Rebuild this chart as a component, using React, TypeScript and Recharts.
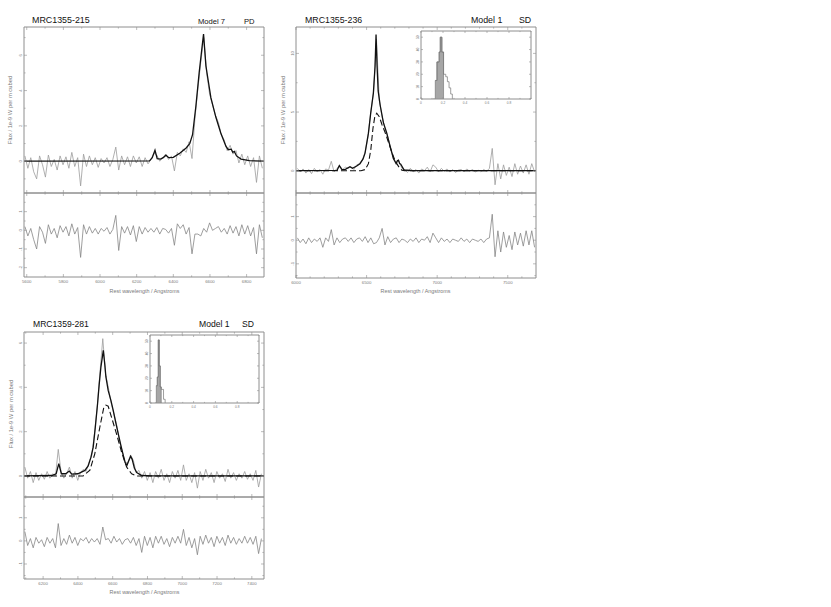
import React from "react";
import { ComposedChart, Line, Area, XAxis, YAxis } from "recharts";

// ---- MRC1355-215 (Model 7, PD) ----
const waveA = [5590, 5606, 5622, 5638, 5654, 5670, 5686, 5702, 5718, 5734, 5750, 5766, 5782, 5798, 5814, 5830, 5846, 5862, 5878, 5894, 5910, 5926, 5942, 5958, 5974, 5990, 6006, 6022, 6038, 6054, 6070, 6086, 6102, 6118, 6134, 6150, 6166, 6182, 6198, 6214, 6230, 6246, 6262, 6278, 6294, 6310, 6326, 6342, 6358, 6374, 6390, 6406, 6422, 6438, 6454, 6470, 6486, 6502, 6518, 6534, 6550, 6566, 6582, 6598, 6614, 6630, 6646, 6662, 6678, 6694, 6710, 6726, 6742, 6758, 6774, 6790, 6806, 6822, 6838, 6854, 6870, 6886];
const fluxA = [0.3, -0.4, 0.2, -0.6, -1.0, 0.3, -0.2, -0.9, 0.35, -0.3, 0.1, -0.5, 0.3, -0.2, 0.25, -0.4, 0.5, -0.3, 0.2, -1.4, 0.4, -0.3, 0.3, -0.2, 0.2, -0.35, 0.15, -0.1, 0.2, -0.3, 0.1, 0.8, -0.5, 0.3, -0.2, 0.25, -0.3, 0.3, -0.1, 0.25, -0.3, 0.2, -0.15, 0.1, 0.45, 0.35, 0.0, 0.2, 0.4, 0.1, 0.3, -0.55, 0.5, 0.3, 0.7, 0.5, 1.1, 0.15, 2.4, 4.1, 5.6, 7.0, 5.0, 3.8, 3.2, 2.6, 2.2, 1.5, 1.2, 0.6, 0.9, 0.4, 0.6, -0.1, 0.4, -0.2, 0.3, -0.3, 0.2, -1.2, 0.3, -0.4];
const residA = [0.2, -0.3, 0.1, -0.5, -1.0, 0.2, -0.1, -0.7, 0.3, -0.2, 0.1, -0.4, 0.25, -0.1, 0.2, -0.3, 0.35, -0.2, 0.15, -1.45, 0.3, -0.2, 0.2, -0.15, 0.1, -0.2, 0.1, -0.05, 0.15, -0.2, 0.05, 0.8, -1.08, 0.2, -0.15, 0.2, -0.25, 0.25, -0.6, 0.2, -0.2, 0.15, -0.1, 0.1, -0.1, 0.15, -0.2, 0.1, 0.05, -0.15, 0.1, -0.8, 0.35, 0.1, 0.3, -0.2, 0.15, -1.26, -0.2, -0.2, -0.3, 0.1, -0.1, 0.4, 0.0, 0.1, 0.2, -0.1, 0.1, -0.2, 0.25, -0.15, 0.2, -0.3, 0.3, -0.2, 0.25, -0.3, 0.15, -1.26, 0.3, -0.4];
const modelWaveA = [5585, 6270, 6285, 6300, 6312, 6330, 6345, 6360, 6375, 6400, 6435, 6470, 6490, 6505, 6523, 6541, 6555, 6565, 6578, 6590, 6605, 6632, 6659, 6687, 6700, 6716, 6725, 6733, 6745, 6770, 6815, 6895];
const modelFluxA = [0, 0.02, 0.2, 0.62, 0.15, 0.12, 0.2, 0.34, 0.2, 0.22, 0.45, 0.75, 1.0, 1.5, 3.1, 5.0, 6.3, 7.2, 5.4, 4.6, 3.6, 2.5, 1.6, 0.85, 0.65, 0.68, 0.5, 0.55, 0.3, 0.12, 0.03, 0];

// ---- MRC1355-236 (Model 1, SD) ----
const waveB = [6010, 6030, 6050, 6070, 6090, 6110, 6130, 6150, 6170, 6190, 6210, 6230, 6250, 6270, 6290, 6310, 6330, 6350, 6370, 6390, 6410, 6430, 6450, 6470, 6490, 6510, 6530, 6550, 6570, 6590, 6610, 6630, 6650, 6670, 6690, 6710, 6730, 6750, 6770, 6790, 6810, 6830, 6850, 6870, 6890, 6910, 6930, 6950, 6970, 6990, 7010, 7030, 7050, 7070, 7090, 7110, 7130, 7150, 7170, 7190, 7210, 7230, 7250, 7270, 7290, 7310, 7330, 7350, 7370, 7390, 7410, 7430, 7450, 7470, 7490, 7510, 7530, 7550, 7570, 7590, 7610, 7630, 7650, 7670, 7690];
const fluxB = [0.2, -0.1, 0.15, -0.2, 0.1, -0.25, 0.2, -0.1, 0.1, -0.3, 0.15, 0.05, 0.8, -0.1, 0.2, 0.4, 0.1, 0.3, 0.2, 0.35, 0.1, 0.5, 0.6, 0.9, 1.6, 2.9, 5.0, 6.8, 11.2, 6.0, 4.6, 3.6, 2.9, 2.0, 1.0, 0.7, 0.8, 0.2, 0.1, -0.15, 0.2, -0.1, 0.1, -0.2, 0.15, 0.0, 0.3, -0.1, 0.5, 0.3, -0.1, 0.2, -0.05, 0.15, -0.1, 0.1, -0.15, 0.05, 0.1, -0.1, 0.15, -0.05, 0.1, -0.1, 0.05, -0.1, 0.1, -0.05, 0.2, 1.9, -1.2, 0.6, -0.7, 0.5, -0.4, 0.3, -0.5, 0.6, -0.3, 0.4, -0.2, 0.5, -0.3, 0.6, -0.1];
const residB = [0.1, -0.1, 0.05, -0.15, 0.1, -0.1, 0.05, -0.05, 0.1, -0.3, 0.1, -0.05, 0.45, -0.2, 0.1, -0.1, 0.05, 0.1, -0.05, 0.1, -0.1, 0.05, 0.1, -0.05, 0.15, -0.1, 0.1, -0.15, -0.1, 0.1, 0.5, -0.2, 0.15, -0.1, 0.05, 0.1, -0.1, 0.05, 0.0, -0.1, 0.05, -0.05, 0.1, -0.1, 0.05, 0.0, 0.15, -0.1, 0.3, 0.1, -0.1, 0.1, -0.05, 0.05, -0.1, 0.05, 0.0, -0.05, 0.1, -0.05, 0.05, -0.1, 0.05, 0.0, -0.05, 0.05, -0.1, 0.05, 0.1, 1.1, -0.7, 0.4, -0.5, 0.35, -0.3, 0.2, -0.4, 0.35, -0.2, 0.3, -0.25, 0.4, -0.2, 0.4, -0.3];
const modelWaveB = [6000, 6290, 6307, 6325, 6350, 6382, 6400, 6430, 6453, 6475, 6489, 6513, 6529, 6548, 6560, 6567, 6574, 6582, 6596, 6619, 6643, 6666, 6690, 6709, 6718, 6726, 6734, 6742, 6766, 6830, 7700];
const modelFluxB = [0, 0.02, 0.43, 0.1, 0.12, 0.34, 0.2, 0.4, 0.6, 1.0, 1.5, 3.2, 4.9, 6.6, 8.9, 11.6, 9.0, 6.8, 5.6, 4.1, 3.2, 2.1, 1.05, 0.62, 0.85, 0.9, 0.6, 0.55, 0.06, 0, 0];
const broadWaveB = [6000, 6460, 6490, 6513, 6530, 6545, 6558, 6572, 6590, 6610, 6630, 6650, 6678, 6700, 6714, 6730, 6750, 6770, 7700];
const broadFluxB = [0, 0, 0.1, 0.6, 1.8, 3.6, 4.6, 4.9, 4.6, 3.9, 3.3, 2.6, 1.6, 0.9, 0.6, 0.3, 0.05, 0, 0];
const histAllEdgesB = [0.11, 0.13, 0.145, 0.165, 0.175, 0.19, 0.205, 0.225, 0.24, 0.255, 0.27, 0.285];
const histAllCountsB = [0, 15, 30, 38, 50, 38, 20, 18, 14, 9, 4, 0];
const histSelEdgesB = [0.13, 0.145, 0.165, 0.175, 0.19, 0.205];
const histSelCountsB = [15, 30, 38, 50, 38, 0];

// ---- MRC1359-281 (Model 1, SD) ----
const waveC = [6095, 6111, 6127, 6143, 6159, 6175, 6191, 6207, 6223, 6239, 6255, 6271, 6287, 6303, 6319, 6335, 6351, 6367, 6383, 6399, 6415, 6431, 6447, 6463, 6479, 6495, 6511, 6527, 6543, 6559, 6575, 6591, 6607, 6623, 6639, 6655, 6671, 6687, 6703, 6719, 6735, 6751, 6767, 6783, 6799, 6815, 6831, 6847, 6863, 6879, 6895, 6911, 6927, 6943, 6959, 6975, 6991, 7007, 7023, 7039, 7055, 7071, 7087, 7103, 7119, 7135, 7151, 7167, 7183, 7199, 7215, 7231, 7247, 7263, 7279, 7295, 7311, 7327, 7343, 7359, 7375, 7391, 7407, 7423, 7439, 7455];
const fluxC = [0.4, -0.1, 0.2, -0.3, 0.15, -0.2, 0.1, -0.15, 0.2, -0.1, 0.1, 0.0, 1.2, 0.2, -0.1, 0.1, 0.4, -0.1, 0.2, -0.2, 0.15, 0.3, 0.2, 0.6, 0.9, 1.9, 3.1, 4.7, 6.2, 4.6, 4.0, 3.3, 2.8, 2.3, 1.6, 1.1, 0.6, 0.6, 0.95, 0.7, 0.15, 0.25, -0.1, 0.2, -0.2, 0.15, -0.3, 0.2, -0.1, 0.3, -0.2, 0.1, -0.3, 0.2, -0.1, 0.25, -0.2, 0.5, -0.2, 0.1, -0.3, 0.15, -0.55, 0.2, -0.2, 0.3, -0.1, 0.15, -0.3, 0.2, -0.1, 0.1, -0.25, 0.3, -0.1, 0.15, -0.2, 0.1, -0.1, 0.2, -0.15, 0.1, -0.2, 0.25, -0.5, 0.1];
const residC = [0.4, -0.2, 0.1, -0.3, 0.15, -0.1, 0.05, -0.25, 0.15, -0.1, 0.1, -0.3, 0.75, -0.2, 0.1, -0.15, 0.25, -0.1, 0.15, -0.2, 0.1, 0.0, 0.15, -0.1, 0.1, -0.05, 0.1, -0.15, 0.6, 0.05, 0.1, -0.1, 0.2, -0.05, 0.1, -0.15, 0.05, 0.1, -0.1, 0.15, -0.2, 0.1, -0.5, 0.2, -0.2, 0.15, -0.3, 0.2, -0.1, 0.2, -0.15, 0.1, -0.25, 0.15, -0.1, 0.2, -0.1, 0.5, -0.2, 0.15, -0.3, 0.1, -0.6, 0.2, -0.15, 0.25, -0.1, 0.15, -0.25, 0.2, -0.1, 0.15, -0.2, 0.25, -0.1, 0.15, -0.15, 0.1, -0.1, 0.2, -0.1, 0.15, -0.15, 0.2, -0.55, 0.1];
const modelWaveC = [6090, 6250, 6275, 6290, 6305, 6330, 6350, 6365, 6400, 6440, 6459, 6475, 6488, 6500, 6513, 6522, 6532, 6546, 6555, 6561, 6574, 6590, 6603, 6618, 6632, 6648, 6661, 6672, 6682, 6693, 6703, 6712, 6725, 6738, 6767, 6830, 7470];
const modelFluxC = [0, 0.02, 0.1, 0.56, 0.1, 0.1, 0.22, 0.08, 0.1, 0.25, 0.45, 0.85, 1.3, 2.2, 3.26, 4.1, 4.9, 5.67, 5.0, 4.47, 3.86, 3.4, 2.96, 2.4, 1.9, 1.35, 0.93, 0.6, 0.48, 0.7, 0.89, 0.75, 0.35, 0.15, 0.02, 0, 0];
const broadWaveC = [6090, 6430, 6469, 6497, 6526, 6549, 6561, 6574, 6593, 6622, 6651, 6680, 6709, 6738, 7470];
const broadFluxC = [0, 0, 0.26, 1.0, 2.2, 3.1, 3.2, 3.15, 2.66, 1.9, 1.08, 0.4, 0.1, 0, 0];
const histAllEdgesC = [0.045, 0.058, 0.067, 0.076, 0.085, 0.094, 0.103, 0.124, 0.139];
const histAllCountsC = [0, 14, 21, 51, 30, 13, 11, 3, 0];
const histSelEdgesC = [0.058, 0.067, 0.076, 0.085, 0.094, 0.103];
const histSelCountsC = [14, 21, 51, 30, 13, 0];

// ---- tick values ----
const ticksXA = [5600, 5700, 5800, 5900, 6000, 6100, 6200, 6300, 6400, 6500, 6600, 6700, 6800];
const labelsXA = [5600, 5800, 6000, 6200, 6400, 6600, 6800];
const ticksXB = [6000, 6100, 6200, 6300, 6400, 6500, 6600, 6700, 6800, 6900, 7000, 7100, 7200, 7300, 7400, 7500, 7600];
const labelsXB = [6000, 6500, 7000, 7500];
const ticksXC = [6100, 6200, 6300, 6400, 6500, 6600, 6700, 6800, 6900, 7000, 7100, 7200, 7300, 7400];
const labelsXC = [6200, 6400, 6600, 6800, 7000, 7200, 7400];
const ticksFluxA = [-1, 0, 1, 2, 3, 4, 5, 6, 7];
const labelsFluxA = [0, 2, 4, 6];
const ticksFluxB = [0, 2.5, 5, 7.5, 10];
const labelsFluxB = [0, 5, 10];
const ticksFluxC = [0, 1, 2, 3, 4, 5, 6];
const labelsFluxC = [0, 2, 4, 6];
const ticksResA = [-2, -1.5, -1, -0.5, 0, 0.5, 1, 1.5];
const labelsResA = [-2, -1, 0, 1];
const ticksRes = [-1.5, -1, -0.5, 0, 0.5, 1, 1.5];
const labelsRes = [-1, 0, 1];
const ticksInsetX = [0, 0.1, 0.2, 0.3, 0.4, 0.5, 0.6, 0.7, 0.8, 0.9, 1];
const labelsInsetX = [0, 0.2, 0.4, 0.6, 0.8];
const ticksInsetY = [0, 10, 20, 30, 40, 50];

const FRAME = "#8e8e8e";
const INK = "#7a7a7a";
const SANS = "'Liberation Sans', Arial, sans-serif";
const M = 1;

type Side = "bottom" | "top" | "left" | "right";
type Axis = { domain: [number, number]; ticks: number[]; major: number[] };
type Box = { x0: number; x1: number; y0: number; y1: number };
type Pads = { l: number; r: number; t: number; b: number };

const pairs = (xs: number[], ys: number[]) => xs.map((w, i) => ({ w, v: ys[i] }));

function makeTick(side: Side, axis: Axis, withText: boolean, fs: number, len: number) {
  return (p: any) => {
    const x = Number(p.x);
    const y = Number(p.y);
    const v = Number(p.payload?.value);
    const major = axis.major.some((m) => Math.abs(m - v) < 1e-6);
    const l = major ? len : len * 0.55;
    const label = withText && major ? String(v) : null;
    const txt = { fontSize: fs, fill: INK, fontFamily: SANS };
    if (side === "bottom") {
      const a = y - M;
      return (
        <g>
          <line x1={x} x2={x} y1={a} y2={a - l} stroke={FRAME} strokeWidth={0.6} />
          {label && (
            <text x={x} y={a + fs + 1.5} textAnchor="middle" {...txt}>
              {label}
            </text>
          )}
        </g>
      );
    }
    if (side === "top") {
      const a = y + M;
      return <line x1={x} x2={x} y1={a} y2={a + l} stroke={FRAME} strokeWidth={0.6} />;
    }
    if (side === "left") {
      const a = x + M;
      return (
        <g>
          <line x1={a} x2={a + l} y1={y} y2={y} stroke={FRAME} strokeWidth={0.6} />
          {label && (
            <text x={a - 2} y={y} transform={`rotate(-90 ${a - 2} ${y})`} textAnchor="middle" {...txt}>
              {label}
            </text>
          )}
        </g>
      );
    }
    const a = x - M;
    return <line x1={a} x2={a - l} y1={y} y2={y} stroke={FRAME} strokeWidth={0.6} />;
  };
}

function Plot(props: {
  box: Box;
  pads: Pads;
  data?: any[];
  x: Axis;
  y: Axis;
  xText: boolean;
  yText: boolean;
  fs: number;
  len: number;
  children: React.ReactNode;
}) {
  const { box, pads, data, x, y, xText, yText, fs, len, children } = props;
  const width = box.x1 - box.x0 + pads.l + pads.r;
  const height = box.y1 - box.y0 + pads.t + pads.b;
  const axisLine = { stroke: FRAME, strokeWidth: 1 };
  return (
    <div style={{ position: "absolute", left: box.x0 - pads.l, top: box.y0 - pads.t }}>
      <ComposedChart width={width} height={height} data={data} margin={{ top: 0, right: 0, bottom: 0, left: 0 }}>
        <XAxis xAxisId="b" orientation="bottom" type="number" dataKey="w" domain={x.domain} ticks={x.ticks}
          interval={0} allowDataOverflow height={pads.b} tickSize={0} tickMargin={M} axisLine={axisLine}
          tickLine={false} tick={makeTick("bottom", x, xText, fs, len)} />
        <XAxis xAxisId="t" orientation="top" type="number" dataKey="w" domain={x.domain} ticks={x.ticks}
          interval={0} allowDataOverflow height={pads.t} tickSize={0} tickMargin={M} axisLine={axisLine}
          tickLine={false} tick={makeTick("top", x, false, fs, len)} />
        <YAxis yAxisId="l" orientation="left" type="number" domain={y.domain} ticks={y.ticks}
          interval={0} allowDataOverflow width={pads.l} tickSize={0} tickMargin={M} axisLine={axisLine}
          tickLine={false} tick={makeTick("left", y, yText, fs, len)} />
        <YAxis yAxisId="r" orientation="right" type="number" domain={y.domain} ticks={y.ticks}
          interval={0} allowDataOverflow width={pads.r} tickSize={0} tickMargin={M} axisLine={axisLine}
          tickLine={false} tick={makeTick("right", y, false, fs, len)} />
        {children}
      </ComposedChart>
    </div>
  );
}

const lineBase = { xAxisId: "b", yAxisId: "l", dot: false, isAnimationActive: false, type: "linear" as const };

function SpectrumPanel(props: {
  left: number;
  right: number;
  top: number;
  split: number;
  bottom: number;
  wave: number[];
  flux: number[];
  resid: number[];
  model: { w: number; v: number }[];
  broad?: { w: number; v: number }[];
  xAxis: Axis;
  fluxAxis: Axis;
  resAxis: Axis;
}) {
  const { left, right, top, split, bottom, wave, flux, resid, model, broad, xAxis, fluxAxis, resAxis } = props;
  const rows = wave.map((w, i) => ({ w, flux: flux[i], resid: resid[i] }));
  return (
    <>
      <Plot box={{ x0: left, x1: right, y0: top, y1: split }} pads={{ l: 18, r: 4, t: 4, b: 4 }} data={rows}
        x={xAxis} y={fluxAxis} xText={false} yText fs={4.3} len={3}>
        <Line {...lineBase} dataKey="flux" stroke="#9c9c9c" strokeWidth={0.8} />
        {broad && (
          <Line {...lineBase} data={broad} dataKey="v" stroke="#111" strokeWidth={1.1} strokeDasharray="6 3" />
        )}
        <Line {...lineBase} data={model} dataKey="v" stroke="#111" strokeWidth={1.3} />
      </Plot>
      <Plot box={{ x0: left, x1: right, y0: split, y1: bottom }} pads={{ l: 18, r: 4, t: 4, b: 12 }} data={rows}
        x={xAxis} y={resAxis} xText yText fs={4.3} len={3}>
        <Line {...lineBase} dataKey="resid" stroke="#858585" strokeWidth={0.8} />
      </Plot>
    </>
  );
}

function Inset(props: { box: Box; all: { w: number; v: number }[]; sel: { w: number; v: number }[] }) {
  const { box, all, sel } = props;
  return (
    <Plot box={box} pads={{ l: 6, r: 2, t: 2, b: 6 }} x={{ domain: [0, 1], ticks: ticksInsetX, major: labelsInsetX }}
      y={{ domain: [0, 55], ticks: ticksInsetY, major: ticksInsetY }} xText yText fs={3.2} len={2}>
      <Area xAxisId="b" yAxisId="l" data={sel} dataKey="v" type="stepAfter" fill="#a6a6a6" fillOpacity={1}
        stroke="#6d6d6d" strokeWidth={0.6} isAnimationActive={false} dot={false} />
      <Line xAxisId="b" yAxisId="l" data={all} dataKey="v" type="stepAfter" stroke="#777" strokeWidth={0.7}
        isAnimationActive={false} dot={false} />
    </Plot>
  );
}

const yTitle = "Flux / 1e-9 W per m cubed";
const xTitle = "Rest wavelength / Angstroms";

export default function App() {
  const txt = { fontFamily: SANS, fill: "#111" };
  const small = { fontFamily: SANS, fill: INK };
  return (
    <div style={{ position: "absolute", left: 0, top: 0, width: 831, height: 607, background: "#fff", overflow: "hidden" }}>
      <SpectrumPanel left={24} right={264} top={27} split={193} bottom={277}
        wave={waveA} flux={fluxA} resid={residA} model={pairs(modelWaveA, modelFluxA)}
        xAxis={{ domain: [5585, 6895], ticks: ticksXA, major: labelsXA }}
        fluxAxis={{ domain: [-1.8, 7.6], ticks: ticksFluxA, major: labelsFluxA }}
        resAxis={{ domain: [-2.5, 2.0], ticks: ticksResA, major: labelsResA }} />
      <SpectrumPanel left={296} right={536} top={27} split={193} bottom={278}
        wave={waveB} flux={fluxB} resid={residB} model={pairs(modelWaveB, modelFluxB)}
        broad={pairs(broadWaveB, broadFluxB)}
        xAxis={{ domain: [6000, 7700], ticks: ticksXB, major: labelsXB }}
        fluxAxis={{ domain: [-1.9, 12.25], ticks: ticksFluxB, major: labelsFluxB }}
        resAxis={{ domain: [-1.6, 2.0], ticks: ticksRes, major: labelsRes }} />
      <SpectrumPanel left={24} right={264} top={332} split={497} bottom={579}
        wave={waveC} flux={fluxC} resid={residC} model={pairs(modelWaveC, modelFluxC)}
        broad={pairs(broadWaveC, broadFluxC)}
        xAxis={{ domain: [6090, 7470], ticks: ticksXC, major: labelsXC }}
        fluxAxis={{ domain: [-0.95, 6.5], ticks: ticksFluxC, major: labelsFluxC }}
        resAxis={{ domain: [-1.65, 1.9], ticks: ticksRes, major: labelsRes }} />
      <Inset box={{ x0: 421, x1: 531, y0: 31, y1: 99 }} all={pairs(histAllEdgesB, histAllCountsB)}
        sel={pairs(histSelEdgesB, histSelCountsB)} />
      <Inset box={{ x0: 150, x1: 259, y0: 335, y1: 403 }} all={pairs(histAllEdgesC, histAllCountsC)}
        sel={pairs(histSelEdgesC, histSelCountsC)} />
      <svg width={831} height={607} style={{ position: "absolute", left: 0, top: 0, pointerEvents: "none" }}>
        <text x={32} y={23.3} fontSize={8.9} {...txt}>MRC1355-215</text>
        <text x={198} y={24.3} fontSize={7.6} {...txt}>Model 7</text>
        <text x={244} y={24.3} fontSize={7.6} {...txt}>PD</text>
        <text x={305} y={22.7} fontSize={8.8} {...txt}>MRC1355-236</text>
        <text x={471} y={22.7} fontSize={8.8} {...txt}>Model 1</text>
        <text x={519} y={22.7} fontSize={8.8} {...txt}>SD</text>
        <text x={33} y={326.5} fontSize={8.6} {...txt}>MRC1359-281</text>
        <text x={199} y={326.5} fontSize={8.6} {...txt}>Model 1</text>
        <text x={242} y={326.5} fontSize={8.6} {...txt}>SD</text>

        <text x={12} y={110} fontSize={5.8} textAnchor="middle" transform="rotate(-90 12 110)" {...small}>{yTitle}</text>
        <text x={285} y={110} fontSize={5.8} textAnchor="middle" transform="rotate(-90 285 110)" {...small}>{yTitle}</text>
        <text x={13} y={414} fontSize={5.8} textAnchor="middle" transform="rotate(-90 13 414)" {...small}>{yTitle}</text>

        <text x={144.5} y={293} fontSize={5.4} textAnchor="middle" {...small}>{xTitle}</text>
        <text x={415.5} y={293} fontSize={5.4} textAnchor="middle" {...small}>{xTitle}</text>
        <text x={144.5} y={594} fontSize={5.4} textAnchor="middle" {...small}>{xTitle}</text>
      </svg>
    </div>
  );
}
